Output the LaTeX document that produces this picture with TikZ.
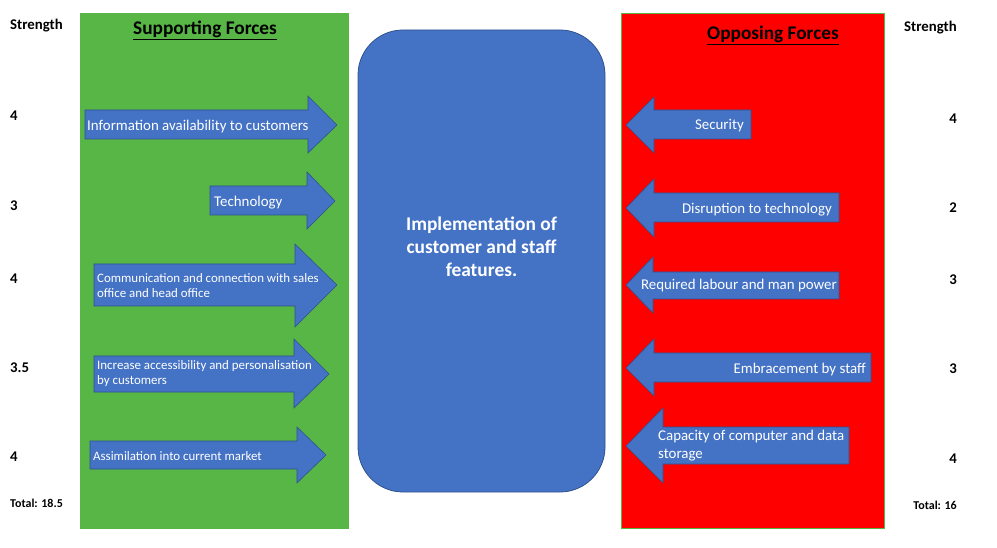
\documentclass[tikz,border=0pt]{standalone}
\usepackage{fontspec}
\setmainfont{Carlito}
\definecolor{sgreen}{HTML}{57B645}
\definecolor{ored}{HTML}{FF0000}
\definecolor{ablue}{HTML}{4472C4}
\definecolor{bblue}{HTML}{2F528F}
\tikzset{
  arrowshape/.style={fill=ablue, draw=bblue, line width=0.6pt, line join=miter},
  lbl/.style={text=white, font=\fontsize{14.9}{18}\selectfont, inner sep=0pt, yshift=-1.5pt},
  slbl/.style={text=white, font=\fontsize{12.9}{15}\selectfont, inner sep=0pt, align=left, yshift=-1.5pt},
  strength/.style={font=\bfseries\fontsize{14.8}{17}\selectfont, inner sep=0pt, yshift=-1.5pt},
  total/.style={font=\bfseries\fontsize{12}{14}\selectfont, inner sep=0pt, yshift=-1.5pt},
  title/.style={font=\bfseries\fontsize{19.3}{22}\selectfont, inner sep=0pt, yshift=-1.5pt}
}
\newcommand{\ulbold}[1]{\underline{#1}}
\begin{document}
\begin{tikzpicture}[x=1pt,y=-1pt]
\useasboundingbox (0,0) rectangle (997,548);
% panels
\fill[sgreen] (80,13) rectangle (349,529);
\draw[fill=ored, draw=sgreen, line width=0.6pt] (621,13) rectangle (884,528);
\draw[fill=ablue, draw=bblue, line width=0.8pt, rounded corners=45pt] (358,30) rectangle (605,492);
\node[text=white, font=\bfseries\fontsize{19.4}{23}\selectfont, align=center, inner sep=0pt, yshift=-1pt] (center) at (481.5,246) {Implementation of\\customer and staff\\features.};
% titles
\node[title] (sup) at (205,29) {\ulbold{Supporting Forces}};
\node[title] (opp) at (773,34) {\ulbold{Opposing Forces}};
\node[strength, anchor=west] (sl) at (10,24) {Strength};
\node[strength, anchor=east] (sr) at (957,26) {Strength};
% supporting arrows
\draw[arrowshape] (85,110) -- (308,110) -- (308,96) -- (337,125) -- (308,153) -- (308,139) -- (85,139) -- cycle;
\node[lbl, anchor=west] (a1) at (87,125) {Information availability to customers};
\draw[arrowshape] (210,186) -- (307,186) -- (307,172) -- (335,201) -- (307,229) -- (307,215) -- (210,215) -- cycle;
\node[lbl, anchor=west] (a2) at (214,201) {Technology};
\draw[arrowshape] (94,264) -- (295,264) -- (295,244) -- (337,285) -- (295,327) -- (295,306) -- (94,306) -- cycle;
\node[slbl, anchor=west] (a3) at (97,284.5) {Communication and connection with sales\\office and head office};
\draw[arrowshape] (94,356) -- (294,356) -- (294,339) -- (329,374) -- (294,408) -- (294,392) -- (94,392) -- cycle;
\node[slbl, anchor=west] (a4) at (97,372.5) {Increase accessibility and personalisation\\by customers};
\draw[arrowshape] (90,441) -- (297,441) -- (297,427) -- (326,455) -- (297,483) -- (297,469) -- (90,469) -- cycle;
\node[slbl, anchor=west] (a5) at (93,455) {Assimilation into current market};
% opposing arrows
\draw[arrowshape] (751,110) -- (654,110) -- (654,97) -- (626,125) -- (654,153) -- (654,139) -- (751,139) -- cycle;
\node[lbl, anchor=east] (b1) at (744,124) {Security};
\draw[arrowshape] (839,193) -- (654,193) -- (654,179) -- (626,208) -- (654,237) -- (654,222) -- (839,222) -- cycle;
\node[lbl, anchor=east] (b2) at (832,208) {Disruption to technology};
\draw[arrowshape] (839,272) -- (653,272) -- (653,257) -- (626,285) -- (653,313) -- (653,299) -- (839,299) -- cycle;
\node[lbl, anchor=east] (b3) at (837,284) {Required labour and man power};
\draw[arrowshape] (871,353) -- (654,353) -- (654,339) -- (626,368) -- (654,396) -- (654,382) -- (871,382) -- cycle;
\node[lbl, anchor=east] (b4) at (866,368) {Embracement by staff};
\draw[arrowshape] (849,427) -- (663,427) -- (663,408) -- (626,446) -- (663,483) -- (663,464) -- (849,464) -- cycle;
\node[lbl, anchor=west, align=left] (b5) at (658,444) {Capacity of computer and data\\storage};
% left strengths
\node[strength, anchor=west] (l1) at (10,114) {4};
\node[strength, anchor=west] (l2) at (10,204) {3};
\node[strength, anchor=west] (l3) at (10,277) {4};
\node[strength, anchor=west] (l4) at (10,366) {3.5};
\node[strength, anchor=west] (l5) at (10,455) {4};
\node[total, anchor=west] (lt) at (10,502) {Total: 18.5};
% right strengths
\node[strength, anchor=east] (r1) at (957,117) {4};
\node[strength, anchor=east] (r2) at (957,206) {2};
\node[strength, anchor=east] (r3) at (957,278) {3};
\node[strength, anchor=east] (r4) at (957,367) {3};
\node[strength, anchor=east] (r5) at (957,457) {4};
\node[total, anchor=east] (rt) at (957,504) {Total: 16};
\end{tikzpicture}
\end{document}
